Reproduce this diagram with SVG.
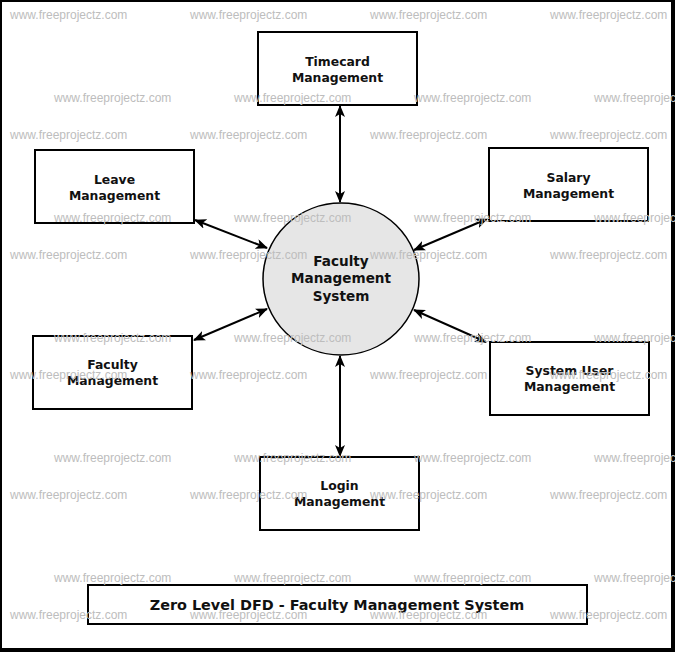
<svg xmlns="http://www.w3.org/2000/svg" width="675" height="652" viewBox="0 0 675 652">
<defs>
<style>
.box{fill:#fff;stroke:#000;stroke-width:2}
.lbl{font-family:"DejaVu Sans",Verdana,sans-serif;font-weight:bold;font-size:12.4px;fill:#111;text-anchor:middle}
.clbl{font-family:"DejaVu Sans",Verdana,sans-serif;font-weight:bold;font-size:13.6px;fill:#111;text-anchor:middle}
.ttl{font-family:"DejaVu Sans",Verdana,sans-serif;font-weight:bold;font-size:14.4px;fill:#111;text-anchor:middle}
.wm{font-family:"Liberation Sans",Arial,sans-serif;font-size:12px;fill:#bdbdbd}
.conn{stroke:#000;stroke-width:2;fill:none;marker-start:url(#ah);marker-end:url(#ah)}
</style>
<marker id="ah" viewBox="0 0 12 10" refX="11" refY="5" markerWidth="12" markerHeight="10" markerUnits="userSpaceOnUse" orient="auto-start-reverse">
<path d="M0,0 L12,5 L0,10 L3,5 z" fill="#000"/>
</marker>
</defs>
<rect x="0" y="0" width="675" height="652" fill="#000"/>
<rect x="2" y="2" width="669" height="646" fill="#fff"/>

<g id="connectors">
<line class="conn" x1="340" y1="106" x2="340" y2="202"/>
<line class="conn" x1="195" y1="220" x2="267" y2="248"/>
<line class="conn" x1="194" y1="340" x2="267" y2="309"/>
<line class="conn" x1="487" y1="219" x2="414" y2="250"/>
<line class="conn" x1="486" y1="342" x2="414" y2="310"/>
<line class="conn" x1="340" y1="356" x2="340" y2="456"/>
</g>

<g id="process">
<ellipse cx="341" cy="279" rx="78" ry="76" fill="#e6e6e6" stroke="#000" stroke-width="1.5"/>
<text class="clbl" x="341" y="266">Faculty</text>
<text class="clbl" x="341" y="283">Management</text>
<text class="clbl" x="341" y="301">System</text>
</g>

<g id="timecard">
<rect class="box" x="258" y="32" width="159" height="73"/>
<text class="lbl" x="337.5" y="65.5">Timecard</text>
<text class="lbl" x="337.5" y="81.5">Management</text>
</g>

<g id="leave">
<rect class="box" x="35" y="150" width="159" height="73"/>
<text class="lbl" x="114.5" y="183.5">Leave</text>
<text class="lbl" x="114.5" y="199.5">Management</text>
</g>

<g id="salary">
<rect class="box" x="489" y="148" width="159" height="73"/>
<text class="lbl" x="568.5" y="182">Salary</text>
<text class="lbl" x="568.5" y="198">Management</text>
</g>

<g id="systemuser">
<rect class="box" x="490" y="342" width="159" height="73"/>
<text class="lbl" x="569.5" y="375">System User</text>
<text class="lbl" x="569.5" y="391">Management</text>
</g>

<g id="faculty">
<rect class="box" x="33" y="336" width="159" height="73"/>
<text class="lbl" x="112.5" y="369">Faculty</text>
<text class="lbl" x="112.5" y="385">Management</text>
</g>

<g id="login">
<rect class="box" x="260" y="457" width="159" height="73"/>
<text class="lbl" x="339.5" y="490">Login</text>
<text class="lbl" x="339.5" y="506">Management</text>
</g>

<g id="title">
<rect class="box" x="88" y="585" width="499" height="39"/>
<text class="ttl" x="337" y="610">Zero Level DFD - Faculty Management System</text>
</g>

<g id="watermarks">
<text class="wm" x="10" y="19">www.freeprojectz.com</text>
<text class="wm" x="190" y="19">www.freeprojectz.com</text>
<text class="wm" x="370" y="19">www.freeprojectz.com</text>
<text class="wm" x="550" y="19">www.freeprojectz.com</text>
<text class="wm" x="54" y="102">www.freeprojectz.com</text>
<text class="wm" x="234" y="102">www.freeprojectz.com</text>
<text class="wm" x="414" y="102">www.freeprojectz.com</text>
<text class="wm" x="594" y="102">www.freeprojectz.com</text>
<text class="wm" x="10" y="139">www.freeprojectz.com</text>
<text class="wm" x="190" y="139">www.freeprojectz.com</text>
<text class="wm" x="370" y="139">www.freeprojectz.com</text>
<text class="wm" x="550" y="139">www.freeprojectz.com</text>
<text class="wm" x="54" y="222">www.freeprojectz.com</text>
<text class="wm" x="234" y="222">www.freeprojectz.com</text>
<text class="wm" x="414" y="222">www.freeprojectz.com</text>
<text class="wm" x="594" y="222">www.freeprojectz.com</text>
<text class="wm" x="10" y="259">www.freeprojectz.com</text>
<text class="wm" x="190" y="259">www.freeprojectz.com</text>
<text class="wm" x="370" y="259">www.freeprojectz.com</text>
<text class="wm" x="550" y="259">www.freeprojectz.com</text>
<text class="wm" x="54" y="342">www.freeprojectz.com</text>
<text class="wm" x="234" y="342">www.freeprojectz.com</text>
<text class="wm" x="414" y="342">www.freeprojectz.com</text>
<text class="wm" x="594" y="342">www.freeprojectz.com</text>
<text class="wm" x="10" y="379">www.freeprojectz.com</text>
<text class="wm" x="190" y="379">www.freeprojectz.com</text>
<text class="wm" x="370" y="379">www.freeprojectz.com</text>
<text class="wm" x="550" y="379">www.freeprojectz.com</text>
<text class="wm" x="54" y="462">www.freeprojectz.com</text>
<text class="wm" x="234" y="462">www.freeprojectz.com</text>
<text class="wm" x="414" y="462">www.freeprojectz.com</text>
<text class="wm" x="594" y="462">www.freeprojectz.com</text>
<text class="wm" x="10" y="499">www.freeprojectz.com</text>
<text class="wm" x="190" y="499">www.freeprojectz.com</text>
<text class="wm" x="370" y="499">www.freeprojectz.com</text>
<text class="wm" x="550" y="499">www.freeprojectz.com</text>
<text class="wm" x="54" y="582">www.freeprojectz.com</text>
<text class="wm" x="234" y="582">www.freeprojectz.com</text>
<text class="wm" x="414" y="582">www.freeprojectz.com</text>
<text class="wm" x="594" y="582">www.freeprojectz.com</text>
<text class="wm" x="10" y="619">www.freeprojectz.com</text>
<text class="wm" x="190" y="619">www.freeprojectz.com</text>
<text class="wm" x="370" y="619">www.freeprojectz.com</text>
<text class="wm" x="550" y="619">www.freeprojectz.com</text>
</g>
</svg>
